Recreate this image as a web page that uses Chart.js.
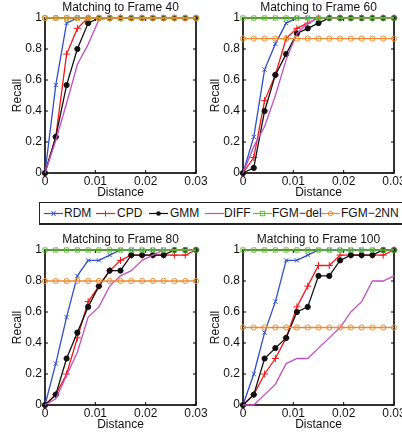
<!DOCTYPE html>
<html>
<head>
<meta charset="utf-8">
<script src="https://cdn.jsdelivr.net/npm/chart.js@4"></script>
<style>
  html, body { margin: 0; padding: 0; background: #fff; }
  body { width: 402px; height: 432px; overflow: hidden; position: relative; font-family: "Liberation Sans", Arial, sans-serif; }
  canvas { position: absolute; }
  #legend { position: absolute; left: 39px; top: 202px; width: 400px; height: 20px; border: 1px solid #222; border-bottom-width: 2px; background: #fff; }
  #legend .it { position: absolute; top: 0; height: 20px; }
  #legend svg { position: absolute; top: 0; }
  #legend span { position: absolute; top: 0; line-height: 21px; font-size: 12px; color: #111; white-space: nowrap; }
</style>
</head>
<body>
<canvas id="c40" width="230" height="205" style="left:0;top:0"></canvas>
<canvas id="c60" width="230" height="205" style="left:198px;top:0"></canvas>
<canvas id="c80" width="230" height="205" style="left:0;top:232px"></canvas>
<canvas id="c100" width="230" height="205" style="left:198px;top:232px"></canvas>
<div id="legend"></div>
<script>
// distance thresholds (x axis)
let distance = [0, 0.00214, 0.00429, 0.00643, 0.00857, 0.01071, 0.01286, 0.015, 0.01714, 0.01929, 0.02143, 0.02357, 0.02571, 0.02786, 0.03];

let methods = ['RDM', 'CPD', 'GMM', 'DIFF', 'FGM\u2212del', 'FGM\u22122NN'];
let colors = ['#2f4fc6', '#f01818', '#111111', '#c050c0', '#66bb3a', '#ee8a2e'];
let markers = ['crossRot', 'cross', 'circle', false, 'rect', 'circle'];
let markerSize = [3, 3.5, 2.6, 0, 3, 2.6];

// frame 40
let rdm40 = [0, 0.567, 0.967, 1, 1, 1, 1, 1, 1, 1, 1, 1, 1, 1, 1];
let cpd40 = [0, 0.233, 0.767, 0.933, 1, 1, 1, 1, 1, 1, 1, 1, 1, 1, 1];
let gmm40 = [0, 0.233, 0.567, 0.8, 0.967, 1, 1, 1, 1, 1, 1, 1, 1, 1, 1];
let diff40 = [0, 0.21, 0.45, 0.7, 0.83, 0.99, 1, 1, 1, 1, 1, 1, 1, 1, 1];
let del40 = [1, 1, 1, 1, 1, 1, 1, 1, 1, 1, 1, 1, 1, 1, 1];
let nn40 = [1, 1, 1, 1, 1, 1, 1, 1, 1, 1, 1, 1, 1, 1, 1];

// frame 60
let rdm60 = [0, 0.233, 0.667, 0.833, 0.967, 1, 1, 1, 1, 1, 1, 1, 1, 1, 1];
let cpd60 = [0, 0.1, 0.467, 0.633, 0.867, 0.933, 0.967, 1, 1, 1, 1, 1, 1, 1, 1];
let gmm60 = [0, 0.033, 0.4, 0.633, 0.767, 0.9, 0.933, 0.967, 1, 1, 1, 1, 1, 1, 1];
let diff60 = [0, 0.17, 0.3, 0.5, 0.73, 0.9, 0.967, 1, 1, 1, 1, 1, 1, 1, 1];
let del60 = [1, 1, 1, 1, 1, 1, 1, 1, 1, 1, 1, 1, 1, 1, 1];
let nn60 = [0.867, 0.867, 0.867, 0.867, 0.867, 0.867, 0.867, 0.867, 0.867, 0.867, 0.867, 0.867, 0.867, 0.867, 0.867];

// frame 80
let rdm80 = [0, 0.267, 0.567, 0.833, 0.933, 0.933, 0.967, 1, 1, 1, 1, 1, 1, 1, 1];
let cpd80 = [0, 0.067, 0.2, 0.433, 0.667, 0.767, 0.867, 0.933, 0.967, 0.967, 0.967, 0.967, 0.967, 0.967, 1];
let gmm80 = [0, 0.067, 0.3, 0.467, 0.633, 0.767, 0.867, 0.867, 0.967, 0.967, 0.967, 0.967, 1, 1, 1];
let diff80 = [0, 0.04, 0.19, 0.34, 0.567, 0.633, 0.767, 0.833, 0.867, 0.933, 0.967, 1, 1, 1, 1];
let del80 = [1, 1, 1, 1, 1, 1, 1, 1, 1, 1, 1, 1, 1, 1, 1];
let nn80 = [0.8, 0.8, 0.8, 0.8, 0.8, 0.8, 0.8, 0.8, 0.8, 0.8, 0.8, 0.8, 0.8, 0.8, 0.8];

// frame 100
let rdm100 = [0, 0.2, 0.467, 0.667, 0.933, 0.933, 0.967, 1, 1, 1, 1, 1, 1, 1, 1];
let cpd100 = [0, 0.067, 0.2, 0.3, 0.433, 0.633, 0.767, 0.9, 0.9, 0.967, 0.967, 0.967, 0.967, 0.967, 1];
let gmm100 = [0, 0.067, 0.3, 0.367, 0.433, 0.6, 0.633, 0.833, 0.833, 0.933, 0.967, 0.967, 0.967, 1, 1];
let diff100 = [0, 0, 0.067, 0.133, 0.267, 0.3, 0.3, 0.367, 0.433, 0.5, 0.6, 0.667, 0.8, 0.8, 0.833];
let del100 = [1, 1, 1, 1, 1, 1, 1, 1, 1, 1, 1, 1, 1, 1, 1];
let nn100 = [0.5, 0.5, 0.5, 0.5, 0.5, 0.5, 0.5, 0.5, 0.5, 0.5, 0.5, 0.5, 0.5, 0.5, 0.5];

let xTicks = [0, 0.01, 0.02, 0.03];
let yTicks = [0, 0.2, 0.4, 0.6, 0.8, 1];

const FONT = { family: '"Liberation Sans", Arial, sans-serif', size: 12 };
const TXT = '#111';

// matlab style box + inward ticks + centred title
const boxPlugin = {
    id: 'box',
    beforeDatasetsDraw(chart) {
        const { ctx, chartArea: a, scales } = chart;
        ctx.save();
        ctx.strokeStyle = '#000';
        ctx.lineWidth = 1;
        ctx.beginPath();
        xTicks.forEach(v => {
            let p = scales.x.getPixelForValue(v);
            ctx.moveTo(p, a.bottom); ctx.lineTo(p, a.bottom - 3);
            ctx.moveTo(p, a.top); ctx.lineTo(p, a.top + 3);
        });
        yTicks.forEach(v => {
            let p = scales.y.getPixelForValue(v);
            ctx.moveTo(a.left, p); ctx.lineTo(a.left + 3, p);
            ctx.moveTo(a.right, p); ctx.lineTo(a.right - 3, p);
        });
        ctx.stroke();
        ctx.lineWidth = 1.6;
        ctx.strokeRect(a.left, a.top, a.right - a.left, a.bottom - a.top);
        ctx.font = '12px ' + FONT.family;
        ctx.fillStyle = TXT;
        ctx.textAlign = 'center';
        ctx.textBaseline = 'middle';
        ctx.fillText(chart.options.plugins.box.title, (a.left + a.right) / 2, a.top - 10);
        ctx.restore();
    }
};

function makeChart(id, title, series) {
    let datasets = series.map((vals, k) => ({
        label: methods[k],
        data: distance.map((d, i) => ({ x: d, y: vals[i] })),
        borderColor: colors[k],
        backgroundColor: k == 2 ? colors[k] : 'rgba(0,0,0,0)',
        borderWidth: 1.3,
        pointStyle: markers[k] || 'circle',
        pointRadius: markerSize[k],
        pointBorderWidth: 1,
        pointBorderColor: colors[k],
        pointBackgroundColor: k == 2 ? colors[k] : 'rgba(0,0,0,0)',
        tension: 0,
        clip: false,
        order: 6 - k
    }));
    return new Chart(document.getElementById(id), {
        type: 'line',
        data: { datasets: datasets },
        options: {
            responsive: false,
            animation: false,
            devicePixelRatio: 1,
            layout: { padding: { left: 0, right: 34, top: 18, bottom: 0 } },
            plugins: {
                legend: { display: false },
                tooltip: { enabled: false },
                title: { display: false },
                box: { title: title }
            },
            scales: {
                x: {
                    type: 'linear', min: 0, max: 0.03,
                    afterBuildTicks: s => { s.ticks = xTicks.map(v => ({ value: v })); },
                    ticks: { font: FONT, color: TXT, padding: 1, maxRotation: 0, autoSkip: false,
                        callback: v => String(Math.round(v * 100) / 100) },
                    grid: { display: false, drawTicks: false },
                    border: { display: false },
                    title: { display: true, text: 'Distance', font: FONT, color: TXT, padding: { top: 0, bottom: 5 } },
                    afterFit: s => { s.height = 32; }
                },
                y: {
                    min: 0, max: 1,
                    afterBuildTicks: s => { s.ticks = yTicks.map(v => ({ value: v })); },
                    ticks: { font: FONT, color: TXT, padding: 3, autoSkip: false,
                        callback: v => String(Math.round(v * 10) / 10) },
                    grid: { display: false, drawTicks: false },
                    border: { display: false },
                    title: { display: true, text: 'Recall', font: FONT, color: TXT, padding: { top: 10, bottom: 0 } },
                    afterFit: s => { s.width = 45; }
                }
            }
        },
        plugins: [boxPlugin]
    });
}

makeChart('c40', 'Matching to Frame 40', [rdm40, cpd40, gmm40, diff40, del40, nn40]);
makeChart('c60', 'Matching to Frame 60', [rdm60, cpd60, gmm60, diff60, del60, nn60]);
makeChart('c80', 'Matching to Frame 80', [rdm80, cpd80, gmm80, diff80, del80, nn80]);
makeChart('c100', 'Matching to Frame 100', [rdm100, cpd100, gmm100, diff100, del100, nn100]);

// shared legend
let legLineX = [4, 56, 109, 165, 213, 281];
let legTextX = [24, 77, 130, 184, 232, 301];
function markerSvg(k) {
    let c = colors[k], m = markers[k];
    let s = '<line x1="0" y1="10.5" x2="19" y2="10.5" stroke="' + c + '" stroke-width="1.2"/>';
    if (m == 'crossRot') s += '<path d="M7.5 8L11.5 13M11.5 8L7.5 13" stroke="' + c + '" stroke-width="1"/>';
    if (m == 'cross') s += '<path d="M9.5 7.5V13.5M6.5 10.5H12.5" stroke="' + c + '" stroke-width="1"/>';
    if (m == 'circle' && k == 2) s += '<circle cx="9.5" cy="10.5" r="2.3" fill="' + c + '"/>';
    if (m == 'circle' && k != 2) s += '<circle cx="9.5" cy="10.5" r="2.2" fill="none" stroke="' + c + '" stroke-width="1"/>';
    if (m == 'rect') s += '<rect x="7.3" y="8.3" width="4.4" height="4.4" fill="none" stroke="' + c + '" stroke-width="1"/>';
    return '<svg width="19" height="21">' + s + '</svg>';
}
let leg = document.getElementById('legend');
methods.forEach((m, k) => {
    leg.insertAdjacentHTML('beforeend',
        '<div class="it" style="left:' + legLineX[k] + 'px">' + markerSvg(k) + '</div>' +
        '<span style="left:' + legTextX[k] + 'px">' + m + '</span>');
});
</script>
</body>
</html>
